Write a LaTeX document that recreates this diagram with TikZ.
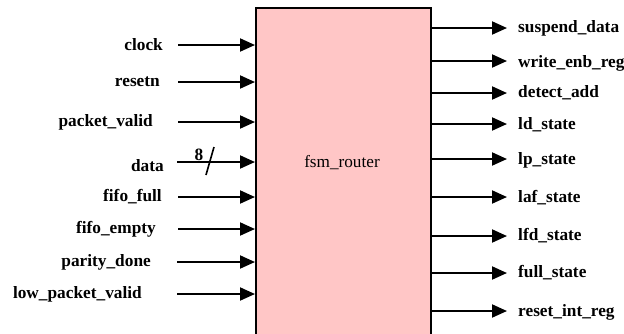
\documentclass[tikz,border=0pt]{standalone}
\usepackage{fontspec}
\setmainfont{Liberation Serif}
\usetikzlibrary{arrows.meta}
\definecolor{boxpink}{HTML}{FFC6C6}
\tikzset{
  sig/.style={line width=2pt,-{Triangle[length=15pt,width=13pt]}},
  inlbl/.style={anchor=east,inner sep=0pt,font=\fontsize{17.3}{19}\selectfont\bfseries},
  outlbl/.style={anchor=west,inner sep=0pt,font=\fontsize{17.3}{19}\selectfont\bfseries},
  block/.style={draw=black,line width=1.6pt,fill=boxpink,inner sep=0pt}
}
\begin{document}
\begin{tikzpicture}[x=1pt,y=-1pt]
\useasboundingbox (0,0) rectangle (624,333);
\clip (0,0) rectangle (624,333);
\node[block,minimum width=175pt,minimum height=336pt,anchor=north west] (box) at (255,7) {};
\node[font=\fontsize{17.2}{19}\selectfont] (title) at (342,163) {fsm\_router};
% inputs
\node[inlbl] (lclock) at (163,45) {clock};
\node[inlbl] (lresetn) at (160,82) {resetn};
\node[inlbl] (lpv) at (153,122) {packet\_valid};
\node[inlbl] (ldata) at (164,166) {data};
\node[inlbl] (lff) at (162,197) {fifo\_full};
\node[inlbl] (lfe) at (156,229) {fifo\_empty};
\node[inlbl] (lpd) at (151,262) {parity\_done};
\node[inlbl] (llpv) at (142,294) {low\_packet\_valid};
\coordinate (iclock) at (178,45);
\coordinate (iresetn) at (178,82);
\coordinate (ipv) at (178,122);
\coordinate (idata) at (177,162);
\coordinate (iff) at (178,197);
\coordinate (ife) at (178,229);
\coordinate (ipd) at (177,262);
\coordinate (ilpv) at (177,294);
\foreach \c in {iclock,iresetn,ipv,idata,iff,ife,ipd,ilpv}
  \draw[sig] (\c) -- (\c -| box.west);
% bus marker
\coordinate (sa) at (206,175);
\coordinate (sb) at (214,147);
\draw[line width=1.6pt] (sa) -- (sb);
\node[font=\fontsize{17.3}{19}\selectfont\bfseries,inner sep=0pt] (bw) at (199,155) {8};
% outputs
\coordinate (osd) at (507,28);
\coordinate (owe) at (507,61);
\coordinate (oda) at (507,93);
\coordinate (old) at (507,124);
\coordinate (olp) at (507,159);
\coordinate (olaf) at (507,197);
\coordinate (olfd) at (507,236);
\coordinate (ofs) at (507,273);
\coordinate (ori) at (507,311);
\foreach \c in {osd,owe,oda,old,olp,olaf,olfd,ofs,ori}
  \draw[sig] (\c -| box.east) -- (\c);
\node[outlbl] (rsd) at (518,28) {suspend\_data};
\node[outlbl] (rwe) at (518,63) {write\_enb\_reg};
\node[outlbl] (rda) at (518,93) {detect\_add};
\node[outlbl] (rld) at (518,125) {ld\_state};
\node[outlbl] (rlp) at (518,160) {lp\_state};
\node[outlbl] (rlaf) at (518,198) {laf\_state};
\node[outlbl] (rlfd) at (518,236) {lfd\_state};
\node[outlbl] (rfs) at (518,273) {full\_state};
\node[outlbl] (rri) at (518,312) {reset\_int\_reg};
\end{tikzpicture}
\end{document}
